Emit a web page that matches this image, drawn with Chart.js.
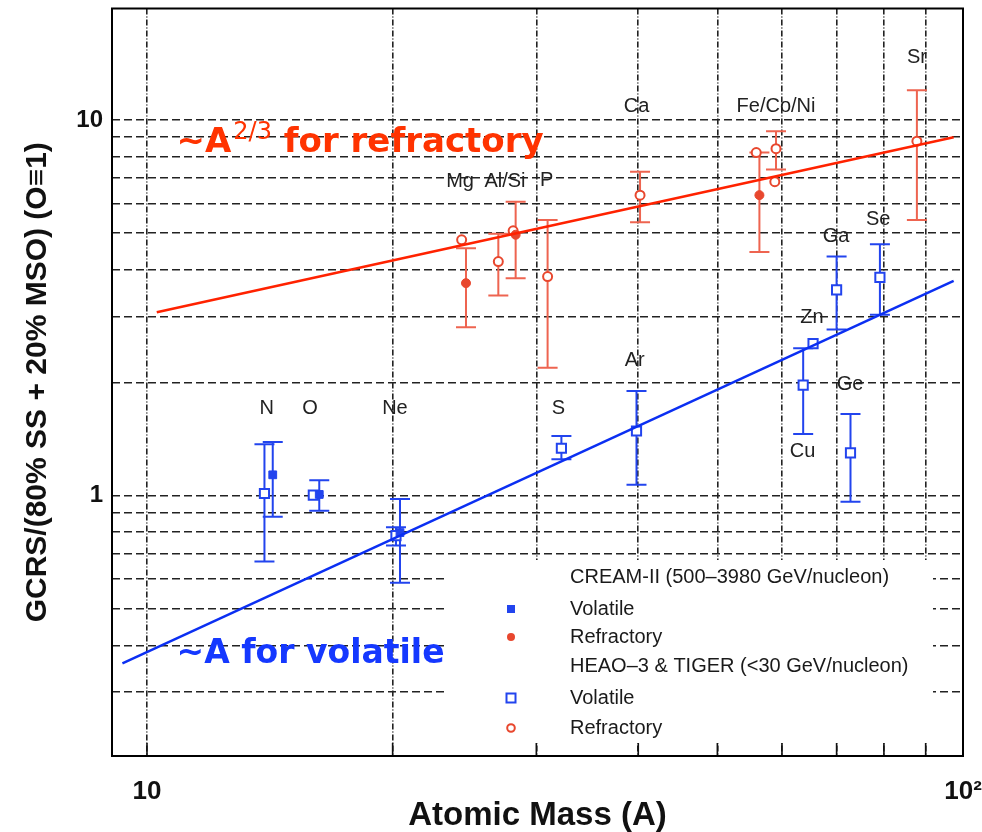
<!DOCTYPE html>
<html>
<head>
<meta charset="utf-8">
<script src="https://cdn.jsdelivr.net/npm/chart.js@4.4.0/dist/chart.umd.min.js"></script>
<style>
  html, body { margin: 0; padding: 0; background: #fff; }
</style>
</head>
<body>
<canvas id="chart" width="982" height="832"></canvas>
<script>
// Axis grid values and the few tick labels that are shown
const xGrid = [10, 20, 30, 40, 50, 60, 70, 80, 90, 100];
const yGrid = [0.3, 0.4, 0.5, 0.6, 0.7, 0.8, 0.9, 1, 2, 3, 4, 5, 6, 7, 8, 9, 10];
const xTickText = { 10: '10', 100: '10²' };
const yTickText = { 1: '1', 10: '10' };

// CREAM-II volatile (filled squares)
const creamVolA  = [14.26, 16.26, 20.42];
const creamVolV  = [1.137, 1.008, 0.798];
const creamVolLo = [0.88, 0.912, 0.587];
const creamVolHi = [1.39, 1.10, 0.98];

// CREAM-II refractory (filled circles)
const creamRefA  = [24.6, 28.3, 56.3];
const creamRefV  = [3.68, 4.95, 6.31];
const creamRefLo = [2.81, 3.79, 4.45];
const creamRefHi = [4.56, 6.06, 8.19];

// HEAO-3 & TIGER volatile (open squares)
const heaoVolA  = [13.93, 15.99, 20.19, 32.2, 39.8, 63.7, 65.5, 70.0, 72.8, 79.1];
const heaoVolV  = [1.014, 1.004, 0.783, 1.338, 1.487, 1.97, 2.54, 3.53, 1.30, 3.81];
const heaoVolLo = [0.668, null, 0.737, 1.251, 1.07, 1.46, null, 2.77, 0.964, 3.03];
const heaoVolHi = [1.371, null, 0.824, 1.443, 1.90, 2.47, null, 4.33, 1.65, 4.67];

// HEAO-3 & TIGER refractory (open circles)
const heaoRefA  = [24.3, 26.95, 28.1, 30.97, 40.2, 55.8, 59.0, 58.8, 87.8];
const heaoRefV  = [4.80, 4.20, 5.07, 3.83, 6.31, 8.19, 8.39, 6.85, 8.78];
const heaoRefLo = [null, 3.41, null, 2.19, 5.34, null, 7.38, null, 5.42];
const heaoRefHi = [null, 4.98, null, 5.42, 7.28, null, 9.33, null, 11.99];

// Fit lines
const refFitA = [10.28, 97.4];
const refFitV = [3.08, 9.0];
const volFitA = [9.33, 97.4];
const volFitV = [0.358, 3.73];

// Element names placed above the points
const elemNames = ['N', 'O', 'Ne', 'S', 'Ar', 'Cu', 'Ge', 'Zn', 'Ga', 'Se', 'Mg', 'Al/Si', 'P', 'Ca', 'Fe/Co/Ni', 'Sr'];
const elemA = [14.02, 15.84, 20.13, 31.92, 39.6, 63.6, 72.7, 65.3, 69.9, 78.7, 24.19, 27.46, 30.89, 39.8, 59.0, 87.8];
const elemV = [1.708, 1.708, 1.708, 1.708, 2.29, 1.31, 1.98, 2.98, 4.90, 5.42, 6.85, 6.85, 6.92, 10.83, 10.83, 14.7];

const legendRows = ['CREAM-II (500\u20133980 GeV/nucleon)', 'Volatile', 'Refractory',
                    'HEAO\u20133 & TIGER (<30 GeV/nucleon)', 'Volatile', 'Refractory'];
const legendMarks = [null, 'fillSq', 'fillCirc', null, 'openSq', 'openCirc'];

const RED = '#e8472e';
const RED_BAR = '#ee6450';
const BLUE = '#2244ee';
const RED_LINE = '#ff2200';
const BLUE_LINE = '#0b2ff2';

function pts(xs, ys) {
    return xs.map((x, i) => ({ x: x, y: ys[i] }));
}

const errorSets = [
    { a: creamVolA, lo: creamVolLo, hi: creamVolHi, color: BLUE },
    { a: heaoVolA, lo: heaoVolLo, hi: heaoVolHi, color: BLUE },
    { a: creamRefA, lo: creamRefLo, hi: creamRefHi, color: RED_BAR },
    { a: heaoRefA, lo: heaoRefLo, hi: heaoRefHi, color: RED_BAR }
];

function drawMark(ctx, kind, x, y) {
    ctx.save();
    ctx.lineWidth = 2;
    if (kind === 'fillSq') {
        ctx.fillStyle = BLUE;
        ctx.fillRect(x - 4, y - 4, 8, 8);
    } else if (kind === 'openSq') {
        ctx.strokeStyle = BLUE;
        ctx.strokeRect(x - 4.5, y - 4.5, 9, 9);
    } else if (kind === 'fillCirc') {
        ctx.fillStyle = RED;
        ctx.beginPath(); ctx.arc(x, y, 4, 0, Math.PI * 2); ctx.fill();
    } else if (kind === 'openCirc') {
        ctx.strokeStyle = RED;
        ctx.beginPath(); ctx.arc(x, y, 3.8, 0, Math.PI * 2); ctx.stroke();
    }
    ctx.restore();
}

// keep the plot box fixed, no extra room for edge labels
function noPad(s) {
    s.paddingTop = 0; s.paddingBottom = 0; s.paddingLeft = 0; s.paddingRight = 0;
}

const extras = {
    id: 'extras',
    beforeDatasetsDraw(chart) {
        const ctx = chart.ctx;
        const area = chart.chartArea;
        const sx = chart.scales.x, sy = chart.scales.y;

        // white legend panel covering the grid
        const box = { left: 448, top: 560, right: 933, bottom: 743 };
        ctx.save();
        ctx.fillStyle = '#fff';
        ctx.fillRect(box.left, box.top, box.right - box.left, box.bottom - box.top);
        // short solid ticks at the bottom edge
        ctx.strokeStyle = '#111';
        ctx.lineWidth = 1.6;
        xGrid.forEach(v => {
            const px = sx.getPixelForValue(v);
            ctx.beginPath(); ctx.moveTo(px, area.bottom); ctx.lineTo(px, area.bottom - 13); ctx.stroke();
        });
        // legend text and markers
        const rowOff = [17, 49, 77, 106, 138, 168];
        ctx.fillStyle = '#1a1a1a';
        ctx.font = '20px "Liberation Sans", Arial, sans-serif';
        ctx.textBaseline = 'middle';
        legendRows.forEach((t, i) => {
            const y = box.top + rowOff[i];
            ctx.fillText(t, box.left + 122, y);
            if (legendMarks[i]) drawMark(ctx, legendMarks[i], box.left + 63, y);
        });
        ctx.restore();

        // error bars
        ctx.save();
        ctx.lineWidth = 2;
        errorSets.forEach(s => {
            ctx.strokeStyle = s.color;
            s.a.forEach((a, i) => {
                if (s.lo[i] == null) return;
                const px = sx.getPixelForValue(a);
                const y1 = sy.getPixelForValue(s.lo[i]);
                const y2 = sy.getPixelForValue(s.hi[i]);
                ctx.beginPath();
                ctx.moveTo(px, y1); ctx.lineTo(px, y2);
                ctx.moveTo(px - 10, y1); ctx.lineTo(px + 10, y1);
                ctx.moveTo(px - 10, y2); ctx.lineTo(px + 10, y2);
                ctx.stroke();
            });
        });
        ctx.restore();
    },
    afterDatasetsDraw(chart) {
        const ctx = chart.ctx;
        const area = chart.chartArea;
        const sx = chart.scales.x, sy = chart.scales.y;

        // element labels
        ctx.save();
        ctx.fillStyle = '#222';
        ctx.font = '20px "Liberation Sans", Arial, sans-serif';
        ctx.textAlign = 'center';
        ctx.textBaseline = 'middle';
        elemNames.forEach((n, i) => {
            ctx.fillText(n, sx.getPixelForValue(elemA[i]), sy.getPixelForValue(elemV[i]));
        });
        ctx.restore();

        // hand-written style notes
        ctx.save();
        ctx.textBaseline = 'alphabetic';
        let x = sx.getPixelForValue(10.87);
        let y = sy.getPixelForValue(8.23);
        ctx.fillStyle = '#ff3300';
        ctx.font = 'bold 34px "DejaVu Sans", sans-serif';
        ctx.fillText('~A', x, y);
        x += ctx.measureText('~A').width + 2;
        ctx.font = '24px "DejaVu Sans", sans-serif';
        ctx.fillText('2/3', x, y - 13);
        x += ctx.measureText('2/3').width;
        ctx.font = 'bold 34px "DejaVu Sans", sans-serif';
        ctx.fillText(' for refractory', x, y);

        ctx.fillStyle = '#1538ff';
        ctx.font = 'bold 33px "DejaVu Sans", sans-serif';
        ctx.fillText('~A for volatile', sx.getPixelForValue(10.87), sy.getPixelForValue(0.358));
        ctx.restore();

        // frame
        ctx.save();
        ctx.strokeStyle = '#000';
        ctx.lineWidth = 2;
        ctx.strokeRect(area.left, area.top, area.right - area.left, area.bottom - area.top);
        ctx.restore();
    }
};

new Chart(document.getElementById('chart'), {
    type: 'scatter',
    data: {
        datasets: [
            { label: 'refFit', type: 'line', data: pts(refFitA, refFitV), borderColor: RED_LINE, borderWidth: 2.5, pointRadius: 0, order: 0 },
            { label: 'volFit', type: 'line', data: pts(volFitA, volFitV), borderColor: BLUE_LINE, borderWidth: 2.5, pointRadius: 0, order: 0 },
            { label: 'CREAM volatile', data: pts(creamVolA, creamVolV), pointStyle: 'rect', pointRadius: 5.5, backgroundColor: BLUE, borderColor: BLUE, borderWidth: 1, order: 1 },
            { label: 'CREAM refractory', data: pts(creamRefA, creamRefV), pointStyle: 'circle', pointRadius: 4.5, backgroundColor: RED, borderColor: RED, borderWidth: 1, order: 1 },
            { label: 'HEAO volatile', data: pts(heaoVolA, heaoVolV), pointStyle: 'rect', pointRadius: 6.5, backgroundColor: '#fff', borderColor: BLUE, borderWidth: 2, order: 2 },
            { label: 'HEAO refractory', data: pts(heaoRefA, heaoRefV), pointStyle: 'circle', pointRadius: 4.5, backgroundColor: '#fff', borderColor: RED, borderWidth: 2, order: 2 }
        ]
    },
    options: {
        responsive: false,
        animation: false,
        layout: { padding: { top: 6, right: 19, left: 0, bottom: 0 } },
        plugins: { legend: { display: false }, tooltip: { enabled: false } },
        scales: {
            x: {
                type: 'logarithmic',
                min: 9.06,
                max: 100,
                afterBuildTicks: s => { s.ticks = xGrid.map(v => ({ value: v })); },
                afterFit: s => { s.height = 76; noPad(s); },
                grid: { color: '#222', lineWidth: 1.6, drawTicks: false },
                border: { display: false, dash: [6, 2, 1, 2] },
                ticks: {
                    autoSkip: false, maxRotation: 0, padding: 20, color: '#111',
                    font: { family: '"Liberation Sans Narrow", "Liberation Sans", Arial', size: 26, weight: 'bold' },
                    callback: v => xTickText[v] || ''
                },
                title: {
                    display: true, text: 'Atomic Mass (A)', color: '#111',
                    font: { family: '"Liberation Sans", Arial', size: 33, weight: 'bold' },
                    padding: { top: 0, bottom: -4 }
                }
            },
            y: {
                type: 'logarithmic',
                min: 0.203,
                max: 19.8,
                afterBuildTicks: s => { s.ticks = yGrid.map(v => ({ value: v })); },
                afterFit: s => { s.width = 112; noPad(s); },
                grid: { color: '#222', lineWidth: 1.6, drawTicks: false },
                border: { display: false, dash: [8, 4] },
                ticks: {
                    autoSkip: false, padding: 9, color: '#111',
                    font: { family: '"Liberation Sans", Arial', size: 24, weight: 'bold' },
                    callback: v => yTickText[v] || ''
                },
                title: {
                    display: true, text: 'GCRS/(80% SS + 20% MSO) (O\u22611)', color: '#111',
                    font: { family: '"Liberation Sans", Arial', size: 30, weight: 'bold' },
                    padding: { top: 20, bottom: 0 }
                }
            }
        }
    },
    plugins: [extras]
});
</script>
</body>
</html>
